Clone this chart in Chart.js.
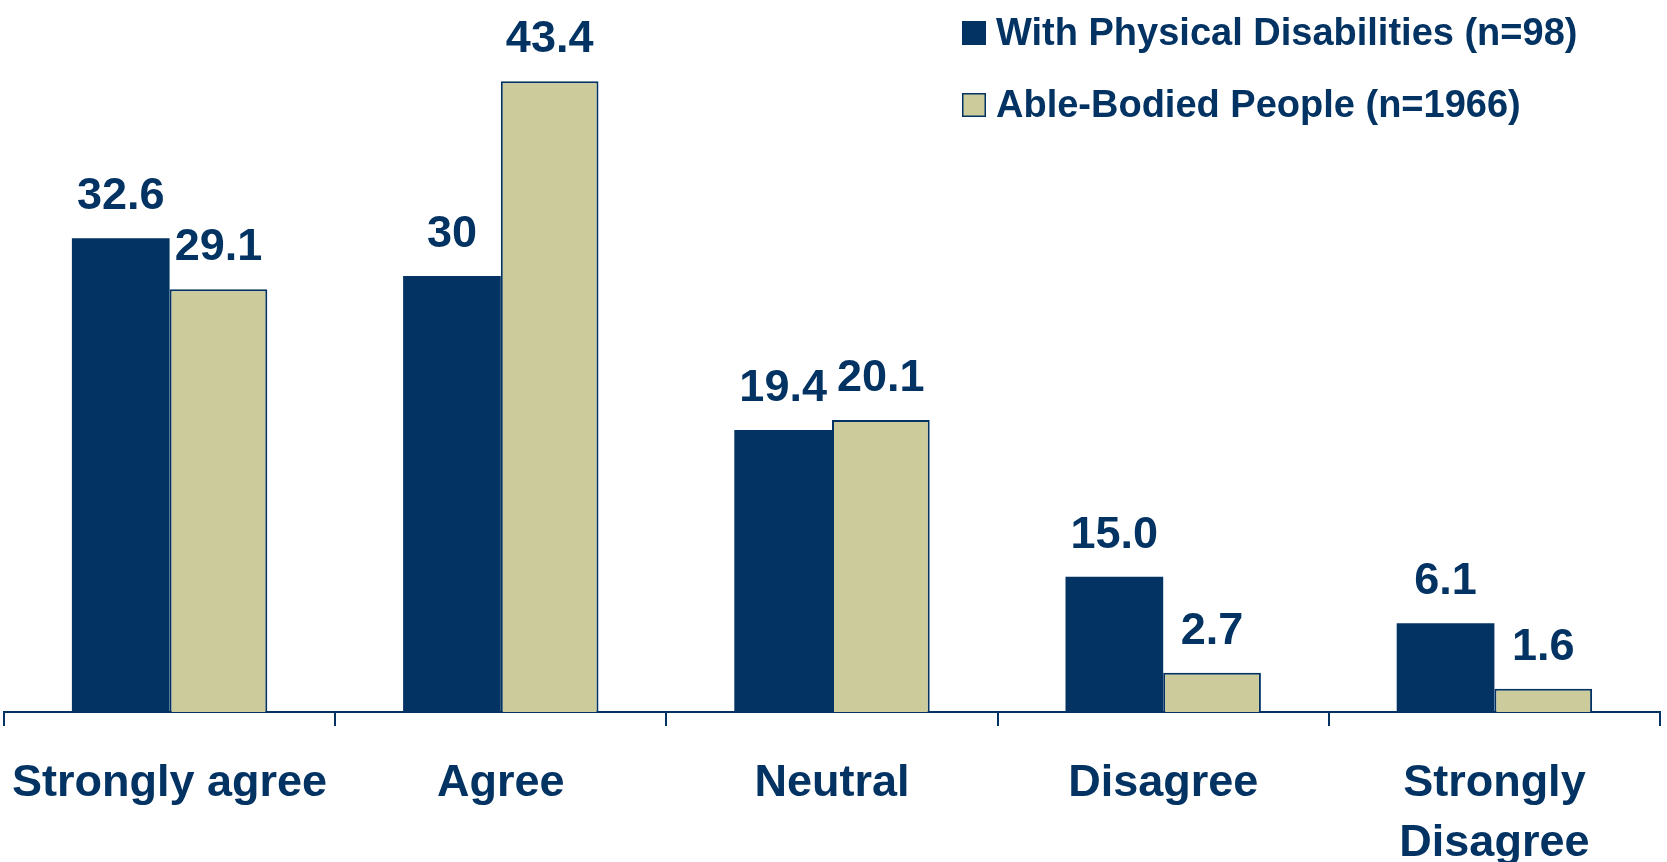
<!DOCTYPE html>
<html>
<head>
<meta charset="utf-8">
<script src="https://cdn.jsdelivr.net/npm/chart.js@4"></script>
<style>
  html, body { margin: 0; padding: 0; background: #fff; overflow: hidden; }
  #wrap { width: 1667px; height: 862px; }
</style>
</head>
<body>
<div id="wrap"><canvas id="surveyChart"></canvas></div>
<script>
// categories on the x axis (multi-line where the picture wraps)
const categories = ['Strongly agree', 'Agree', 'Neutral', 'Disagree', ['Strongly', 'Disagree']];

// bar heights as drawn in the picture, in percent
// (the "Disagree" dark bar is drawn at about 9.3 although it is labelled 15.0)
const disabledValues = [32.6, 30, 19.4, 9.3, 6.1];
const ableValues = [29.1, 43.4, 20.1, 2.7, 1.6];

// the value labels exactly as printed above the bars
const disabledLabels = ['32.6', '30', '19.4', '15.0', '6.1'];
const ableLabels = ['29.1', '43.4', '20.1', '2.7', '1.6'];

const seriesNames = ['With Physical Disabilities (n=98)', 'Able-Bodied People (n=1966)'];

const navy = '#033363';
const khaki = '#CCCB9B';
const fontName = '"Liberation Sans", Arial, sans-serif';

// draws the numbers above every bar
const valueLabels = {
  id: 'valueLabels',
  afterDatasetsDraw(chart) {
    const ctx = chart.ctx;
    const texts = [disabledLabels, ableLabels];
    ctx.save();
    ctx.font = 'bold 45px ' + fontName;
    ctx.fillStyle = navy;
    ctx.textAlign = 'center';
    ctx.textBaseline = 'alphabetic';
    chart.data.datasets.forEach((ds, i) => {
      const meta = chart.getDatasetMeta(i);
      meta.data.forEach((bar, j) => {
        ctx.fillText(texts[i][j], bar.x, bar.y - 29);
      });
    });
    ctx.restore();
  }
};

// legend in the upper right corner, one series per row
const cornerLegend = {
  id: 'cornerLegend',
  afterDraw(chart) {
    const ctx = chart.ctx;
    const left = 962;
    const rows = [33, 105];
    ctx.save();
    ctx.font = 'bold 38px ' + fontName;
    ctx.textBaseline = 'middle';
    ctx.textAlign = 'left';
    chart.data.datasets.forEach((ds, i) => {
      const y = rows[i];
      ctx.fillStyle = ds.backgroundColor;
      ctx.fillRect(left, y - 12, 24, 24);
      if (ds.borderWidth) {
        ctx.strokeStyle = navy;
        ctx.lineWidth = 1.5;
        ctx.strokeRect(left + 0.75, y - 11.25, 22.5, 22.5);
      }
      ctx.fillStyle = navy;
      ctx.fillText(ds.label, left + 34, y + 2);
    });
    ctx.restore();
  }
};

const ctx = document.getElementById('surveyChart').getContext('2d');
const surveyChart = new Chart(ctx, {
  type: 'bar',
  data: {
    labels: categories,
    datasets: [{
      label: seriesNames[0],
      data: disabledValues,
      backgroundColor: navy,
      borderWidth: 0
    }, {
      label: seriesNames[1],
      data: ableValues,
      backgroundColor: khaki,
      borderColor: navy,
      borderWidth: 2
    }]
  },
  options: {
    responsive: true,
    maintainAspectRatio: false,
    animation: false,
    categoryPercentage: 0.59,
    barPercentage: 1,
    layout: { padding: { left: 4, right: 7, top: 0, bottom: 0 } },
    plugins: {
      legend: { display: false },
      tooltip: { enabled: false }
    },
    scales: {
      x: {
        grid: {
          drawOnChartArea: false,
          drawTicks: true,
          tickLength: 14,
          color: navy,
          lineWidth: 2
        },
        border: { display: true, color: navy, width: 2 },
        ticks: {
          color: navy,
          padding: 28,
          font: { family: fontName, size: 45, weight: 'bold', lineHeight: 1.33 },
          maxRotation: 0,
          autoSkip: false
        },
        afterFit(scale) {
          // keep the plot bottom at the same place as the picture
          scale.height = 150;
          scale.paddingLeft = 0;
          scale.paddingRight = 0;
        }
      },
      y: {
        display: false,
        min: 0,
        max: 49
      }
    }
  },
  plugins: [valueLabels, cornerLegend]
});
</script>
</body>
</html>
